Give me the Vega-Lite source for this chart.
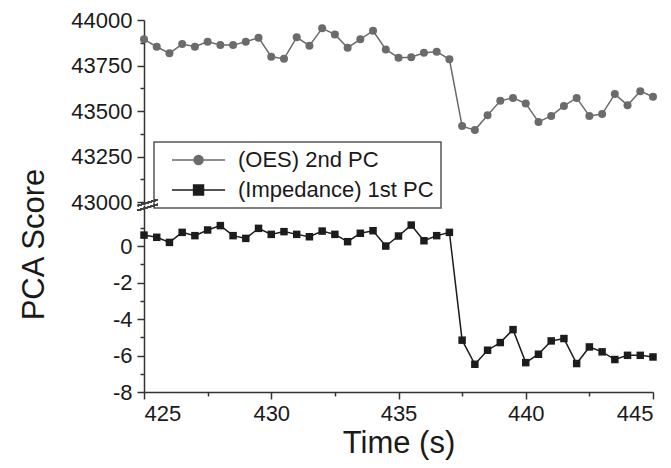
{
  "$schema": "https://vega.github.io/schema/vega-lite/v6.json",
  "autosize": {"type": "pad"},
  "padding": {"left": 17, "top": 9, "right": 0, "bottom": 5},
  "background": "white",
  "bounds": "flush",
  "config": {
    "view": {"stroke": null},
    "font": "Liberation Sans",
    "axis": {
      "grid": false,
      "domainColor": "#333333",
      "tickColor": "#333333",
      "domainWidth": 1.5,
      "tickWidth": 1.5,
      "tickSize": 7,
      "labelFont": "Liberation Sans",
      "labelFontSize": 22,
      "labelColor": "#1a1a1a",
      "titleFont": "Liberation Sans",
      "titleFontSize": 31,
      "titleFontWeight": "normal",
      "titleColor": "#1a1a1a"
    }
  },
  "datasets": {
    "oes": [
      {"t": 425.0, "v": 43894, "series": "(OES) 2nd PC"},
      {"t": 425.5, "v": 43853, "series": "(OES) 2nd PC"},
      {"t": 426.0, "v": 43817, "series": "(OES) 2nd PC"},
      {"t": 426.5, "v": 43868, "series": "(OES) 2nd PC"},
      {"t": 427.0, "v": 43853, "series": "(OES) 2nd PC"},
      {"t": 427.5, "v": 43881, "series": "(OES) 2nd PC"},
      {"t": 428.0, "v": 43862, "series": "(OES) 2nd PC"},
      {"t": 428.5, "v": 43862, "series": "(OES) 2nd PC"},
      {"t": 429.0, "v": 43881, "series": "(OES) 2nd PC"},
      {"t": 429.5, "v": 43903, "series": "(OES) 2nd PC"},
      {"t": 430.0, "v": 43798, "series": "(OES) 2nd PC"},
      {"t": 430.5, "v": 43787, "series": "(OES) 2nd PC"},
      {"t": 431.0, "v": 43905, "series": "(OES) 2nd PC"},
      {"t": 431.5, "v": 43859, "series": "(OES) 2nd PC"},
      {"t": 432.0, "v": 43954, "series": "(OES) 2nd PC"},
      {"t": 432.5, "v": 43921, "series": "(OES) 2nd PC"},
      {"t": 433.0, "v": 43848, "series": "(OES) 2nd PC"},
      {"t": 433.5, "v": 43894, "series": "(OES) 2nd PC"},
      {"t": 434.0, "v": 43941, "series": "(OES) 2nd PC"},
      {"t": 434.5, "v": 43838, "series": "(OES) 2nd PC"},
      {"t": 435.0, "v": 43793, "series": "(OES) 2nd PC"},
      {"t": 435.5, "v": 43795, "series": "(OES) 2nd PC"},
      {"t": 436.0, "v": 43820, "series": "(OES) 2nd PC"},
      {"t": 436.5, "v": 43826, "series": "(OES) 2nd PC"},
      {"t": 437.0, "v": 43784, "series": "(OES) 2nd PC"},
      {"t": 437.5, "v": 43417, "series": "(OES) 2nd PC"},
      {"t": 438.0, "v": 43395, "series": "(OES) 2nd PC"},
      {"t": 438.5, "v": 43477, "series": "(OES) 2nd PC"},
      {"t": 439.0, "v": 43556, "series": "(OES) 2nd PC"},
      {"t": 439.5, "v": 43572, "series": "(OES) 2nd PC"},
      {"t": 440.0, "v": 43541, "series": "(OES) 2nd PC"},
      {"t": 440.5, "v": 43440, "series": "(OES) 2nd PC"},
      {"t": 441.0, "v": 43473, "series": "(OES) 2nd PC"},
      {"t": 441.5, "v": 43528, "series": "(OES) 2nd PC"},
      {"t": 442.0, "v": 43572, "series": "(OES) 2nd PC"},
      {"t": 442.5, "v": 43473, "series": "(OES) 2nd PC"},
      {"t": 443.0, "v": 43483, "series": "(OES) 2nd PC"},
      {"t": 443.5, "v": 43593, "series": "(OES) 2nd PC"},
      {"t": 444.0, "v": 43532, "series": "(OES) 2nd PC"},
      {"t": 444.5, "v": 43609, "series": "(OES) 2nd PC"},
      {"t": 445.0, "v": 43578, "series": "(OES) 2nd PC"}
    ],
    "imp": [
      {"t": 425.0, "v": 0.60, "series": "(Impedance) 1st PC"},
      {"t": 425.5, "v": 0.48, "series": "(Impedance) 1st PC"},
      {"t": 426.0, "v": 0.20, "series": "(Impedance) 1st PC"},
      {"t": 426.5, "v": 0.75, "series": "(Impedance) 1st PC"},
      {"t": 427.0, "v": 0.57, "series": "(Impedance) 1st PC"},
      {"t": 427.5, "v": 0.88, "series": "(Impedance) 1st PC"},
      {"t": 428.0, "v": 1.12, "series": "(Impedance) 1st PC"},
      {"t": 428.5, "v": 0.57, "series": "(Impedance) 1st PC"},
      {"t": 429.0, "v": 0.42, "series": "(Impedance) 1st PC"},
      {"t": 429.5, "v": 0.97, "series": "(Impedance) 1st PC"},
      {"t": 430.0, "v": 0.64, "series": "(Impedance) 1st PC"},
      {"t": 430.5, "v": 0.79, "series": "(Impedance) 1st PC"},
      {"t": 431.0, "v": 0.64, "series": "(Impedance) 1st PC"},
      {"t": 431.5, "v": 0.51, "series": "(Impedance) 1st PC"},
      {"t": 432.0, "v": 0.82, "series": "(Impedance) 1st PC"},
      {"t": 432.5, "v": 0.64, "series": "(Impedance) 1st PC"},
      {"t": 433.0, "v": 0.24, "series": "(Impedance) 1st PC"},
      {"t": 433.5, "v": 0.70, "series": "(Impedance) 1st PC"},
      {"t": 434.0, "v": 0.84, "series": "(Impedance) 1st PC"},
      {"t": 434.5, "v": 0.00, "series": "(Impedance) 1st PC"},
      {"t": 435.0, "v": 0.55, "series": "(Impedance) 1st PC"},
      {"t": 435.5, "v": 1.15, "series": "(Impedance) 1st PC"},
      {"t": 436.0, "v": 0.29, "series": "(Impedance) 1st PC"},
      {"t": 436.5, "v": 0.57, "series": "(Impedance) 1st PC"},
      {"t": 437.0, "v": 0.75, "series": "(Impedance) 1st PC"},
      {"t": 437.5, "v": -5.16, "series": "(Impedance) 1st PC"},
      {"t": 438.0, "v": -6.48, "series": "(Impedance) 1st PC"},
      {"t": 438.5, "v": -5.71, "series": "(Impedance) 1st PC"},
      {"t": 439.0, "v": -5.29, "series": "(Impedance) 1st PC"},
      {"t": 439.5, "v": -4.58, "series": "(Impedance) 1st PC"},
      {"t": 440.0, "v": -6.39, "series": "(Impedance) 1st PC"},
      {"t": 440.5, "v": -5.93, "series": "(Impedance) 1st PC"},
      {"t": 441.0, "v": -5.20, "series": "(Impedance) 1st PC"},
      {"t": 441.5, "v": -5.07, "series": "(Impedance) 1st PC"},
      {"t": 442.0, "v": -6.44, "series": "(Impedance) 1st PC"},
      {"t": 442.5, "v": -5.53, "series": "(Impedance) 1st PC"},
      {"t": 443.0, "v": -5.80, "series": "(Impedance) 1st PC"},
      {"t": 443.5, "v": -6.22, "series": "(Impedance) 1st PC"},
      {"t": 444.0, "v": -5.99, "series": "(Impedance) 1st PC"},
      {"t": 444.5, "v": -5.99, "series": "(Impedance) 1st PC"},
      {"t": 445.0, "v": -6.08, "series": "(Impedance) 1st PC"}
    ]
  },
  "spacing": 3,
  "resolve": {"scale": {"color": "independent"}, "legend": {"color": "independent"}},
  "vconcat": [
    {
      "width": 509,
      "height": 182,
      "data": {"name": "oes"},
      "resolve": {"axis": {"y": "independent"}},
      "layer": [
        {
          "mark": {"type": "line", "strokeWidth": 1.5},
          "encoding": {
            "x": {"field": "t", "type": "quantitative", "scale": {"domain": [425, 445], "nice": false, "zero": false}, "axis": null},
            "y": {
              "field": "v", "type": "quantitative",
              "scale": {"domain": [43000, 44000], "nice": false, "zero": false},
              "axis": {"orient": "left", "values": [43000, 43250, 43500, 43750, 44000], "labelExpr": "datum.value + ''", "labelPadding": 5, "title": null}
            },
            "color": {
              "field": "series", "type": "nominal",
              "scale": {"domain": ["(OES) 2nd PC", "(Impedance) 1st PC"], "range": ["#6b6b6b", "#1c1c1c"]},
              "legend": {
                "title": null,
                "orient": "none",
                "legendX": 10,
                "legendY": 122,
                "padding": 7,
                "strokeColor": "#555555",
                "fillColor": "white",
                "labelFont": "Liberation Sans",
                "labelFontSize": 22,
                "labelColor": "#1a1a1a",
                "labelOffset": 55,
                "labelLimit": 400,
                "symbolSize": 81,
                "symbolStrokeWidth": 1.5,
                "rowPadding": 8,
                "encode": {
                  "legend": {"update": {"strokeWidth": {"value": 1.5}}},
                  "symbols": {
                    "update": {
                      "shape": {"signal": "datum.value === '(OES) 2nd PC' ? 'M0,0H11.8M4.9,0A1,1,0,1,1,6.9,0A1,1,0,1,1,4.9,0Z' : 'M0,0H11.8M4.8,-1.1H7V1.1H4.8Z'"},
                      "fill": {"signal": "datum.value === '(OES) 2nd PC' ? '#6b6b6b' : '#1c1c1c'"},
                      "stroke": {"signal": "datum.value === '(OES) 2nd PC' ? '#6b6b6b' : '#1c1c1c'"},
                      "strokeWidth": {"value": 1.5},
                      "opacity": {"value": 1},
                      "fillOpacity": {"value": 1},
                      "strokeOpacity": {"value": 1}
                    }
                  }
                }
              }
            }
          }
        },
        {
          "mark": {"type": "point", "shape": "circle", "filled": true, "size": 64, "opacity": 1},
          "encoding": {
            "x": {"field": "t", "type": "quantitative", "axis": null},
            "y": {
              "field": "v", "type": "quantitative",
              "axis": {"orient": "left", "values": [43125, 43375, 43625, 43875], "labels": false, "domain": false, "tickSize": 4, "title": null}
            },
            "color": {"field": "series", "type": "nominal"}
          }
        }
      ]
    },
    {
      "width": 509,
      "height": 187,
      "data": {"name": "imp"},
      "resolve": {"axis": {"x": "independent", "y": "independent"}},
      "layer": [
        {
          "mark": {"type": "line", "color": "#1c1c1c", "strokeWidth": 1.5},
          "encoding": {
            "x": {
              "field": "t", "type": "quantitative",
              "scale": {"domain": [425, 445], "nice": false, "zero": false},
              "axis": {"orient": "bottom", "values": [425, 430, 435, 440, 445], "labelExpr": "datum.value + ''", "labelPadding": 4, "title": "Time (s)", "titlePadding": 4}
            },
            "y": {
              "field": "v", "type": "quantitative",
              "scale": {"domain": [-8, 2.25], "nice": false, "zero": false},
              "axis": {"orient": "left", "values": [-8, -6, -4, -2, 0], "labelExpr": "datum.value + ''", "labelPadding": 5, "title": "PCA Score", "titleX": -101, "titleY": 39, "titleAngle": -90, "titleAlign": "center", "titleBaseline": "alphabetic"}
            }
          }
        },
        {
          "mark": {"type": "point", "shape": "square", "filled": true, "size": 56, "opacity": 1, "color": "#1c1c1c"},
          "encoding": {
            "x": {
              "field": "t", "type": "quantitative",
              "axis": {"orient": "bottom", "values": [427.5, 432.5, 437.5, 442.5], "labels": false, "domain": false, "tickSize": 4, "title": null}
            },
            "y": {
              "field": "v", "type": "quantitative",
              "axis": {"orient": "left", "values": [-7, -5, -3, -1, 1], "labels": false, "domain": false, "tickSize": 4, "title": null}
            }
          }
        },
        {
          "mark": {"type": "point", "shape": "M-5,2.7L5,-0.3M-5,0.3L5,-2.7", "filled": false, "stroke": "#444444", "strokeWidth": 1.2, "size": 16, "opacity": 1},
          "encoding": {
            "x": {"datum": 425.15, "type": "quantitative", "axis": null},
            "y": {"datum": 2.25, "type": "quantitative", "axis": null}
          }
        }
      ]
    }
  ]
}
